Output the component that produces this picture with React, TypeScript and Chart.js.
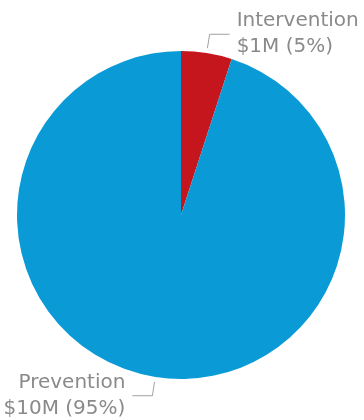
import React, { useEffect, useRef } from "react";
import { Chart, registerables } from "chart.js";

Chart.register(...registerables);

const categories = ["Intervention", "Prevention"];
const amounts = ["$1M", "$10M"];
const shares = [5, 95];
const colors = ["#c4161c", "#0a9bd7"];

const labelPlugin = {
  id: "leaderLabels",
  afterDatasetsDraw(chart: any) {
    const ctx = chart.ctx;
    const meta = chart.getDatasetMeta(0);
    ctx.save();
    meta.data.forEach((arc: any, i: number) => {
      const { x, y, startAngle, endAngle, outerRadius } = arc.getProps(
        ["x", "y", "startAngle", "endAngle", "outerRadius"],
        true
      );
      const mid = (startAngle + endAngle) / 2;
      const cos = Math.cos(mid);
      const sin = Math.sin(mid);
      const sx = x + cos * (outerRadius + 5);
      const sy = y + sin * (outerRadius + 5);
      const ex = x + cos * (outerRadius + 19);
      const ey = y + sin * (outerRadius + 19);
      const dir = cos >= 0 ? 1 : -1;
      const hx = ex + dir * 20;
      ctx.strokeStyle = "#a0a0a0";
      ctx.lineWidth = 1;
      ctx.beginPath();
      ctx.moveTo(sx, sy);
      ctx.lineTo(ex, ey);
      ctx.lineTo(hx, ey);
      ctx.stroke();
      ctx.fillStyle = "#8a8a8a";
      ctx.font = "20px 'DejaVu Sans'";
      ctx.textBaseline = "middle";
      ctx.textAlign = dir > 0 ? "left" : "right";
      const tx = hx + dir * 7;
      ctx.fillText(categories[i], tx, ey - 13);
      ctx.fillText(`${amounts[i]} (${shares[i]}%)`, tx, ey + 13);
    });
    ctx.restore();
  },
};

export default function App() {
  const ref = useRef<HTMLCanvasElement>(null);
  useEffect(() => {
    if (!ref.current) return;
    const chart = new Chart(ref.current, {
      type: "pie",
      data: {
        labels: categories,
        datasets: [
          {
            data: shares,
            backgroundColor: colors,
            borderWidth: 0,
          },
        ],
      },
      options: {
        animation: false,
        responsive: false,
        devicePixelRatio: 1,
        layout: { padding: { left: 17, right: 19, top: 50, bottom: 40 } },
        plugins: {
          legend: { display: false },
          tooltip: { enabled: false },
        },
      },
      plugins: [labelPlugin],
    });
    return () => chart.destroy();
  }, []);
  return (
    <div style={{ position: "fixed", left: 0, top: 0, width: 364, height: 420, background: "#fff" }}>
      <canvas ref={ref} width={364} height={420} style={{ width: 364, height: 420 }} />
    </div>
  );
}
